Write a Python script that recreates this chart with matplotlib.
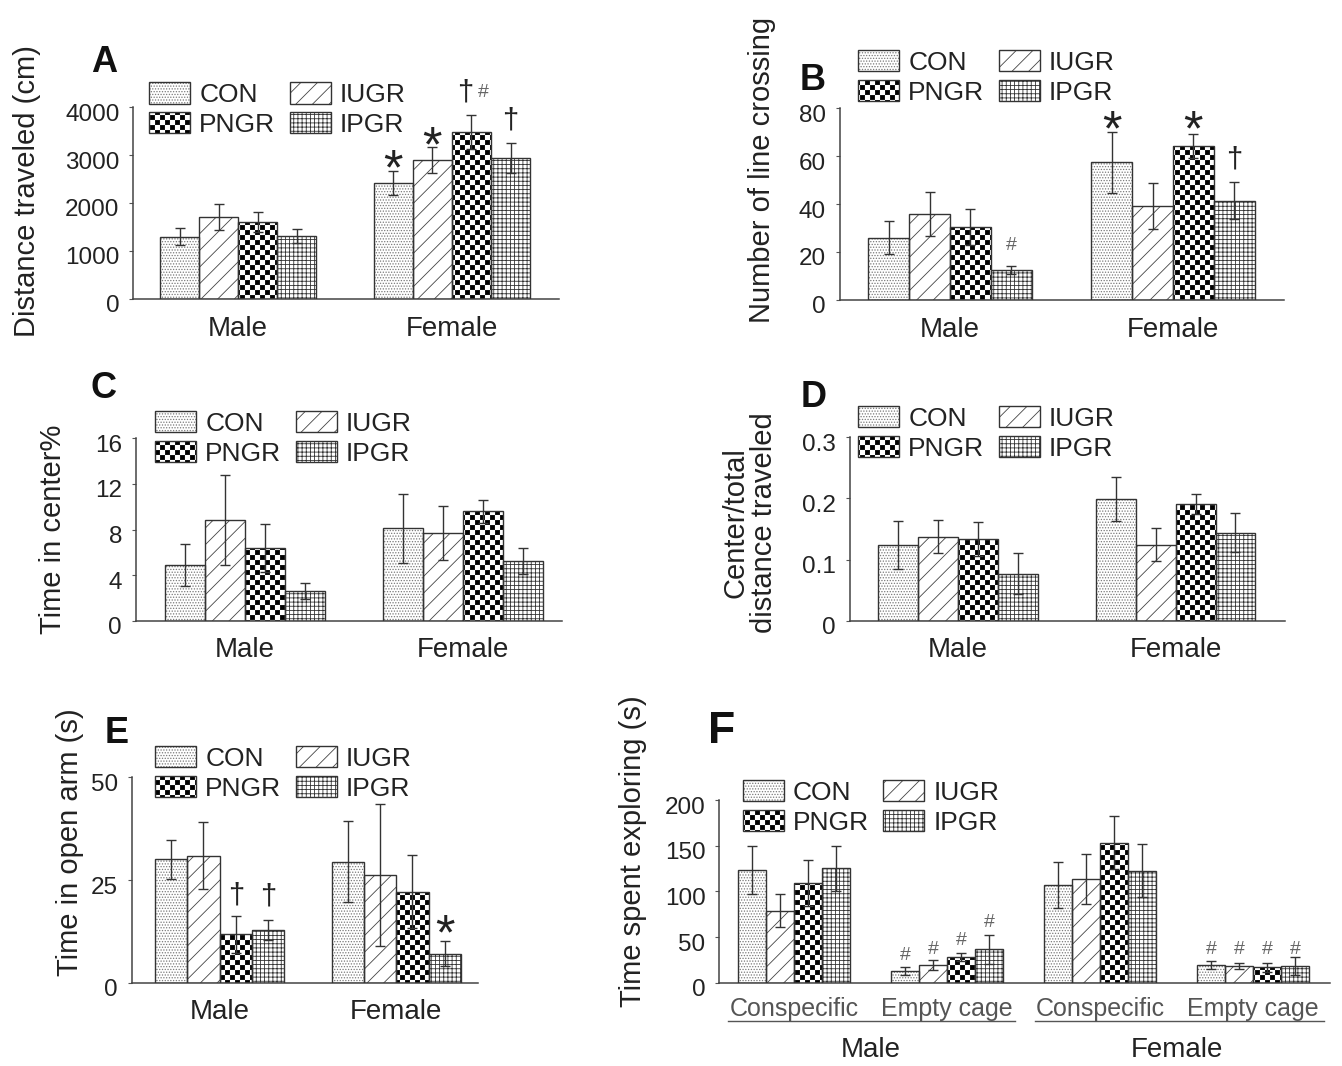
import warnings
warnings.filterwarnings('ignore')
import numpy as np
import matplotlib
matplotlib.use('Agg')
import matplotlib.pyplot as plt
import matplotlib.hatch as mhatch
from matplotlib.path import Path
from matplotlib.patches import Patch
from matplotlib.legend_handler import HandlerTuple
from matplotlib.transforms import ScaledTranslation

# ---------------- data ----------------
groups = ['CON', 'IUGR', 'PNGR', 'IPGR']
sex_labels = ['Male', 'Female']

# rows: CON, IUGR, PNGR, IPGR ; columns: Male, Female
a_means = [[1300, 2420], [1710, 2900], [1600, 3480], [1310, 2940]]
a_errs = [[170, 250], [270, 270], [210, 350], [150, 310]]

b_means = [[26.0, 57.4], [35.8, 39.3], [30.6, 64.3], [12.5, 41.4]]
b_errs = [[6.8, 12.7], [9.0, 9.6], [7.5, 5.0], [1.8, 7.8]]

c_means = [[4.9, 8.1], [8.8, 7.7], [6.4, 9.6], [2.6, 5.25]]
c_errs = [[1.85, 3.0], [3.95, 2.4], [2.1, 1.0], [0.7, 1.15]]

d_means = [[0.124, 0.199], [0.137, 0.124], [0.134, 0.191], [0.077, 0.144]]
d_errs = [[0.039, 0.036], [0.027, 0.027], [0.028, 0.016], [0.033, 0.032]]

e_means = [[30.0, 29.5], [30.9, 26.2], [11.85, 22.2], [12.8, 7.1]]
e_errs = [[4.7, 9.9], [8.1, 17.3], [4.5, 8.9], [2.4, 3.1]]

f_cats = ['Conspecific', 'Empty cage', 'Conspecific', 'Empty cage']
f_sex = ['Male', 'Female']
f_means = [[123.3, 12.8, 106.9, 19.3], [78.8, 19.3, 113.5, 18.2],
           [109.5, 27.7, 153.3, 16.8], [125.2, 36.5, 122.6, 18.2]]
f_errs = [[26.0, 4.7, 25.6, 4.8], [18.0, 5.5, 27.4, 3.7],
          [25.0, 4.4, 29.0, 5.0], [24.5, 15.7, 29.0, 10.2]]

# significance marks: (symbol, category index, group index, y of glyph centre, x shift)
a_marks = [('*', 1, 0, 3000, 0), ('*', 1, 1, 3470, 0), ('\u2020', 1, 2, 4320, -0.03),
           ('#', 1, 2, 4350, 0.055), ('\u2020', 1, 3, 3730, 0)]
b_marks = [('*', 1, 0, 76.4, 0), ('*', 1, 2, 76.4, 0), ('\u2020', 1, 3, 58.7, 0), ('#', 0, 3, 23.6, 0)]
e_marks = [('\u2020', 0, 2, 21.4, 0), ('\u2020', 0, 3, 21.2, 0), ('*', 1, 3, 15.1, 0)]
f_marks = [('#', 1, 0, 32.5, 0), ('#', 1, 1, 38.9, 0), ('#', 1, 2, 48.8, 0), ('#', 1, 3, 68.5, 0),
           ('#', 3, 0, 39, 0), ('#', 3, 1, 39, 0), ('#', 3, 2, 39, 0), ('#', 3, 3, 39, 0)]


# ---------------- checkerboard hatch ----------------
class CheckerHatch(mhatch.HatchPatternBase):
    def __init__(self, hatch, density):
        self.n = hatch.count('s') * 10
        self.num_vertices = (self.n * self.n // 2) * 5 if self.n else 0

    def set_vertices_and_codes(self, vertices, codes):
        n = self.n
        c = 1.0 / n
        g = c * 0.1
        k = 0
        for i in range(n):
            for j in range(n):
                if (i + j) % 2 == 0:
                    x0, y0 = i * c + g, j * c + g
                    x1, y1 = (i + 1) * c - g, (j + 1) * c - g
                    vertices[k:k + 5] = [[x0, y0], [x1, y0], [x1, y1], [x0, y1], [x0, y0]]
                    codes[k:k + 5] = [Path.MOVETO, Path.LINETO, Path.LINETO,
                                      Path.LINETO, Path.CLOSEPOLY]
                    k += 5


mhatch._hatch_types.append(CheckerHatch)

plt.rcParams['font.family'] = ['Liberation Sans', 'DejaVu Sans']
plt.rcParams['hatch.linewidth'] = 0.6

HATCHES = ['......', '//', 'ss', '++++']
HATCH_COL = ['#7a7a7a', '#444444', '#000000', '#333333']
EDGE = '#333333'
TXT = '#222222'

W, H = 1342, 1066
fig = plt.figure(figsize=(W / 100, H / 100), dpi=100)


def add_ax(L, R, T, B):
    return fig.add_axes([L / W, 1 - B / H, (R - L) / W, (B - T) / H])


BW = 0.183


def draw_panel(ax, means, errs, ncat, ylim, yticks, yticklabels, xlim, xlabels, xlabelsize=20, xcolor=TXT, xpad=12):
    x = np.arange(ncat)
    offs = (np.arange(4) - 1.5) * BW
    for g in range(4):
        xs = x + offs[g]
        ax.bar(xs, means[g], BW, color='white', edgecolor=HATCH_COL[g], hatch=HATCHES[g],
               linewidth=0, zorder=2)
        ax.bar(xs, means[g], BW, fill=False, edgecolor=EDGE, linewidth=1.0, zorder=3)
        ax.errorbar(xs, means[g], yerr=errs[g], fmt='none', ecolor=EDGE, elinewidth=1.0,
                    capsize=3.5, capthick=1.0, zorder=4)
    ax.set_xlim(*xlim)
    ax.set_ylim(*ylim)
    ax.set_yticks(yticks)
    ax.set_yticklabels(yticklabels)
    ax.set_xticks(x)
    ax.set_xticklabels(xlabels)
    for s in ['top', 'right']:
        ax.spines[s].set_visible(False)
    for s in ['left', 'bottom']:
        ax.spines[s].set_color('#444444')
        ax.spines[s].set_linewidth(1.1)
    ax.tick_params(axis='y', direction='out', length=3, width=0.8, color='#555555',
                   labelsize=17.5, labelcolor=TXT, pad=7)
    ax.tick_params(axis='x', length=0, labelsize=xlabelsize, labelcolor=xcolor, pad=xpad)
    off = ScaledTranslation(0, -0.05, fig.dpi_scale_trans)
    for t in ax.yaxis.get_major_ticks():
        t.label1.set_transform(t.label1.get_transform() + off)
    ax.set_facecolor('none')


def add_legend(ax, left_px, row1_center_px):
    order = [0, 2, 1, 3]
    handles = [(Patch(facecolor='white', edgecolor=HATCH_COL[g], hatch=HATCHES[g], linewidth=0),
                Patch(facecolor='none', edgecolor=EDGE, linewidth=1.0)) for g in order]
    labels = [groups[g] for g in order]
    leg = ax.legend(handles, labels, ncol=2, loc='upper left',
                    bbox_to_anchor=(left_px / W, 1 - (row1_center_px - 10.0) / H),
                    bbox_transform=fig.transFigure, frameon=False, borderpad=0,
                    borderaxespad=0, handlelength=1.55, handleheight=0.85,
                    handletextpad=0.35, columnspacing=0.55, labelspacing=0.2,
                    fontsize=19, handler_map={tuple: HandlerTuple(ndivide=1, pad=0)})
    for t in leg.get_texts():
        t.set_color(TXT)
    leg.set_zorder(5)


GLYPH = {'*': (36, 0.58, TXT), '\u2020': (21, 0.29, TXT), '#': (14, 0.36, '#666666')}


def add_marks(ax, marks):
    offs = (np.arange(4) - 1.5) * BW
    for sym, ci, gi, yc, dx in marks:
        fs, k, col = GLYPH[sym]
        ax.annotate(sym, xy=(ci + offs[gi] + dx, yc), xytext=(0, -k * fs), textcoords='offset points',
                    ha='center', va='baseline', fontsize=fs, color=col, annotation_clip=False, zorder=6)


def panel_label(txt, xc, ybase, fs=26):
    fig.text(xc / W, 1 - ybase / H, txt, fontsize=fs, fontweight='bold', ha='center',
             va='baseline', color='#111111')


def ylab(txt, xc, yc, fs=21):
    fig.text(xc / W, 1 - yc / H, txt, fontsize=fs, rotation=90, ha='center', va='center',
             color=TXT, linespacing=1.0)


# ---------------- panel A ----------------
axA = add_ax(133.3, 133.3 + (1.5 + 0.491) * 213.7, 107, 299)
draw_panel(axA, a_means, a_errs, 2, (0, 4000), [0, 1000, 2000, 3000, 4000],
           ['0', '1000', '2000', '3000', '4000'], (-0.491, 1.5), sex_labels)
add_legend(axA, 149, 92.5)
add_marks(axA, a_marks)
panel_label('A', 104, 72)
ylab('Distance traveled (cm)', 27, 191)

# ---------------- panel B ----------------
axB = add_ax(840, 840 + (1.5 + 0.493) * 223, 108, 300)
draw_panel(axB, b_means, b_errs, 2, (0, 80), [0, 20, 40, 60, 80],
           ['0', '20', '40', '60', '80'], (-0.493, 1.5), sex_labels)
add_legend(axB, 858, 60)
add_marks(axB, b_marks)
panel_label('B', 813, 90)
ylab('Number of line crossing', 762, 170)

# ---------------- panel C ----------------
axC = add_ax(136, 136 + (1.45 + 0.497) * 218.7, 438.3, 620.7)
draw_panel(axC, c_means, c_errs, 2, (0, 16), [0, 4, 8, 12, 16],
           ['0', '4', '8', '12', '16'], (-0.497, 1.45), sex_labels)
add_legend(axC, 155, 421)
panel_label('C', 104, 398)
ylab('Time in center%', 53, 529.5)

# ---------------- panel D ----------------
axD = add_ax(850, 850 + (1.5 + 0.496) * 217.7, 437.3, 620.7)
draw_panel(axD, d_means, d_errs, 2, (0, 0.3), [0, 0.1, 0.2, 0.3],
           ['0', '0.1', '0.2', '0.3'], (-0.496, 1.5), sex_labels)
add_legend(axD, 858, 416)
panel_label('D', 814, 407)
ylab('Center/total\ndistance traveled', 749.5, 523)

# ---------------- panel E ----------------
axE = add_ax(131.7, 131.7 + (1.465 + 0.497) * 176.7, 777.3, 982.7)
draw_panel(axE, e_means, e_errs, 2, (0, 50), [0, 25, 50],
           ['0', '25', '50'], (-0.497, 1.465), sex_labels)
add_legend(axE, 155, 756)
add_marks(axE, e_marks)
panel_label('E', 117, 743)
ylab('Time in open arm (s)', 70, 842)

# ---------------- panel F ----------------
axF = add_ax(719.3, 719.3 + (3.5 + 0.49) * 153, 800, 982.7)
draw_panel(axF, f_means, f_errs, 4, (0, 200), [0, 50, 100, 150, 200],
           ['0', '50', '100', '150', '200'], (-0.49, 3.5), f_cats,
           xlabelsize=18, xcolor='#555555', xpad=10)
add_legend(axF, 742.7, 790)
add_marks(axF, f_marks)
tr = axF.get_xaxis_transform()
for x0, x1 in [(-0.435, 1.44), (1.572, 3.46)]:
    axF.plot([x0, x1], [-0.21, -0.21], color='#555555', lw=1.0, transform=tr, clip_on=False)
for xc, lab in zip([0.5, 2.5], f_sex):
    axF.text(xc, -0.368, lab, transform=tr, ha='center', va='center', fontsize=20, color=TXT)
panel_label('F', 722, 743, fs=32)
ylab('Time spent exploring (s)', 633, 851)

fig.savefig('out.png', dpi=100, facecolor='white')
